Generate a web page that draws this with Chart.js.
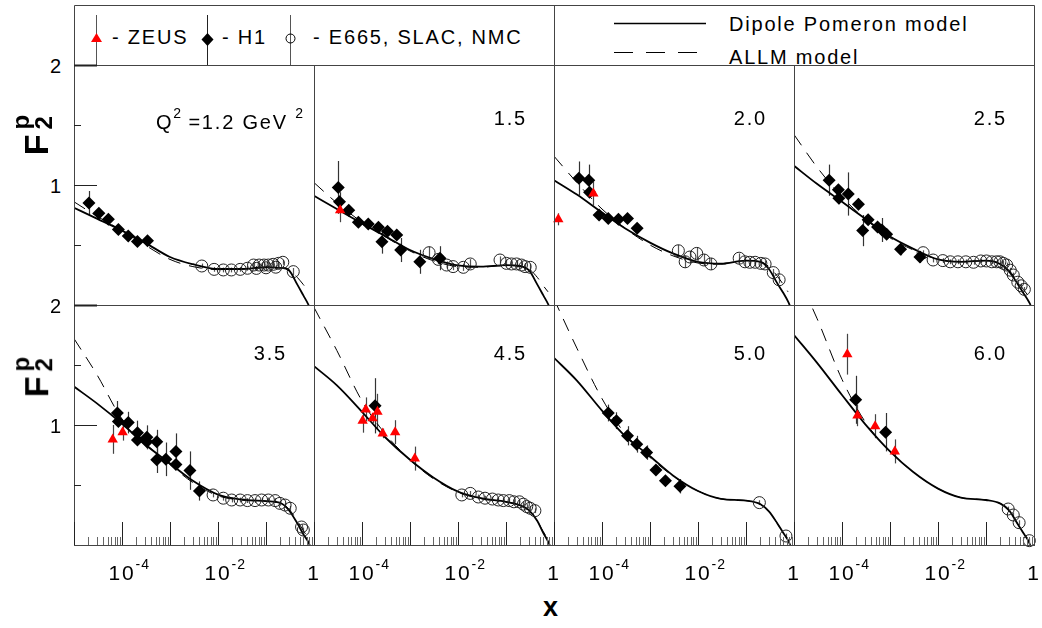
<!DOCTYPE html>
<html>
<head>
<meta charset="utf-8">
<script src="https://cdn.jsdelivr.net/npm/chart.js@4.4.1/dist/chart.umd.min.js"></script>
<style>
  body { margin: 0; background: #fff; }
  #fig { position: relative; width: 1042px; height: 628px; overflow: hidden;
         font-family: "Liberation Sans", Arial, sans-serif; color: #000; }
  #fig canvas { position: absolute; }
  .t { position: absolute; white-space: nowrap; font-size: 20px; line-height: 1; letter-spacing: 1.8px; }
  .sup { position: absolute; left: 100%; top: -5px; font-size: 14px; letter-spacing: 1px; }
  .isup { font-size: 14px; vertical-align: 11px; letter-spacing: 0; }
</style>
</head>
<body>
<div id="fig">
  <svg width="1042" height="70" style="position:absolute;left:0;top:0">
    <path d="M74.5 66 V5.5 H1034.5 V66 M554.5 5.5 V66" stroke="#444" stroke-width="1" fill="none"/>
    <line x1="96.5" y1="15" x2="96.5" y2="65" stroke="#555"/>
    <polygon points="96.5,33 102,42 91,42" fill="#ff0000"/>
    <line x1="207.5" y1="15" x2="207.5" y2="65" stroke="#222"/>
    <polygon points="207.5,33 213.5,39.5 207.5,46 201.5,39.5" fill="#000"/>
    <line x1="290.5" y1="15" x2="290.5" y2="65" stroke="#555"/>
    <circle cx="290.5" cy="38.5" r="4.5" fill="none" stroke="#000"/>
    <line x1="614" y1="23.5" x2="706" y2="23.5" stroke="#000" stroke-width="1.6"/>
    <line x1="614" y1="52.5" x2="698" y2="52.5" stroke="#000" stroke-width="1" stroke-dasharray="19 13"/>
  </svg>
  <div class="t" style="left:112px;top:27px">- ZEUS</div>
  <div class="t" style="left:222px;top:27px">- H1</div>
  <div class="t" style="left:313px;top:27px">- E665, SLAC, NMC</div>
  <div class="t" style="left:729px;top:14px">Dipole Pomeron model</div>
  <div class="t" style="left:729px;top:47px">ALLM model</div>
  <div class="t" style="left:543px;top:594px;font-size:27px;font-weight:bold;letter-spacing:0">x</div>
</div>
<script>
const CURVE_X = [1e-5, 3e-5, 1e-4, 3e-4, 1e-3, 3e-3, 1e-2, 3e-2, 0.1, 0.2, 0.3, 0.45, 0.6, 0.75, 0.85];
const Q2_LABELS = ['1.2', '1.5', '2.0', '2.5', '3.5', '4.5', '5.0', '6.0'];
const X_TICK_LABELS = [[1e-4, '10', '-4'], [1e-2, '10', '-2'], [1, '1', '']];
const Y_TICK_LABELS = [[1, '1'], [2, '2']];

// points: [x, F2, error]
const zeus_12 = [];
const h1_12 = [[2.05e-5, 0.85, 0.1], [3.3e-5, 0.765, 0.03], [5.2e-5, 0.715, 0.03], [8.4e-5, 0.63, 0.03],
  [1.35e-4, 0.575, 0.03], [2.1e-4, 0.53, 0.03], [3.4e-4, 0.535, 0.03]];
const fixed_12 = [[4.6e-3, 0.325, 0.02], [8.3e-3, 0.297, 0.02], [1.29e-2, 0.292, 0.02], [1.9e-2, 0.292, 0.02],
  [2.9e-2, 0.297, 0.02], [4.1e-2, 0.306, 0.02], [5.5e-2, 0.333, 0.02], [6.3e-2, 0.305, 0.02], [7.2e-2, 0.333, 0.02],
  [9.1e-2, 0.333, 0.02], [0.1, 0.31, 0.02], [0.112, 0.333, 0.02], [0.141, 0.339, 0.02], [0.16, 0.315, 0.02],
  [0.182, 0.347, 0.02], [0.224, 0.356, 0.02], [0.37, 0.278, 0.03]];
const dip_12 = [0.81, 0.72, 0.62, 0.52, 0.40, 0.34, 0.30, 0.30, 0.315, 0.31, 0.29, 0.17, 0.08, 0.01, -0.04];
const allm_12 = [0.86, 0.74, 0.62, 0.50, 0.38, 0.32, 0.295, 0.30, 0.31, 0.31, 0.30, 0.23, 0.17, 0.12];

const zeus_15 = [[3.5e-5, 0.79, 0.1]];
const h1_15 = [[3.2e-5, 0.98, 0.22], [3.4e-5, 0.86, 0.08], [5.3e-5, 0.79, 0.03], [8.4e-5, 0.69, 0.03],
  [1.35e-4, 0.675, 0.03], [2.2e-4, 0.647, 0.03], [3.4e-4, 0.614, 0.03], [5.3e-4, 0.583, 0.03],
  [2.6e-4, 0.528, 0.1], [6.4e-4, 0.458, 0.1], [1.6e-3, 0.36, 0.1], [4.2e-3, 0.39, 0.1]];
const fixed_15 = [[2.5e-3, 0.436, 0.05], [3.9e-3, 0.38, 0.04], [5.8e-3, 0.333, 0.03], [7.9e-3, 0.32, 0.03],
  [1.29e-2, 0.314, 0.03], [1.8e-2, 0.342, 0.04], [7.5e-2, 0.375, 0.03], [0.102, 0.347, 0.03], [0.13, 0.342, 0.03],
  [0.166, 0.342, 0.03], [0.21, 0.333, 0.03], [0.25, 0.32, 0.03], [0.32, 0.314, 0.03]];
const dip_15 = [0.91, 0.80, 0.68, 0.575, 0.458, 0.385, 0.33, 0.32, 0.333, 0.325, 0.29, 0.17, 0.08, 0.01, -0.04];
const allm_15 = [1.02, 0.85, 0.69, 0.57, 0.45, 0.37, 0.32, 0.315, 0.33, 0.32, 0.30, 0.23, 0.16, 0.11];

const zeus_20 = [[1.23e-5, 0.714, 0.05], [6.6e-5, 0.93, 0.1]];
const h1_20 = [[3.3e-5, 1.056, 0.14], [5.3e-5, 1.04, 0.13], [5.5e-5, 0.94, 0.03], [8.7e-5, 0.75, 0.03],
  [1.35e-4, 0.72, 0.04], [2.2e-4, 0.714, 0.03], [3.4e-4, 0.72, 0.03], [5.4e-4, 0.64, 0.04]];
const fixed_20 = [[3.9e-3, 0.452, 0.05], [5.4e-3, 0.36, 0.05], [6.8e-3, 0.40, 0.05], [9.4e-3, 0.43, 0.05],
  [1.33e-2, 0.375, 0.05], [1.86e-2, 0.342, 0.05], [7.2e-2, 0.39, 0.04], [9.5e-2, 0.36, 0.04], [0.12, 0.356, 0.03],
  [0.155, 0.356, 0.03], [0.204, 0.347, 0.03], [0.25, 0.342, 0.03], [0.37, 0.27, 0.03], [0.49, 0.21, 0.03]];
const dip_20 = [1.04, 0.92, 0.77, 0.64, 0.52, 0.43, 0.36, 0.345, 0.37, 0.36, 0.30, 0.18, 0.10, 0.03, -0.02];
const allm_20 = [1.24, 1.02, 0.80, 0.64, 0.50, 0.41, 0.35, 0.34, 0.37, 0.36, 0.32, 0.24, 0.17, 0.11];

const zeus_25 = [];
const h1_25 = [[5.4e-5, 1.04, 0.13], [8.4e-5, 0.96, 0.04], [8.6e-5, 0.89, 0.05], [1.35e-4, 0.925, 0.18],
  [2.2e-4, 0.84, 0.05], [2.7e-4, 0.62, 0.13], [3.5e-4, 0.71, 0.04], [5.5e-4, 0.65, 0.04], [6.8e-4, 0.625, 0.1],
  [8.5e-4, 0.59, 0.03], [1.66e-3, 0.464, 0.05], [4.2e-3, 0.40, 0.05]];
const fixed_25 = [[4.9e-3, 0.436, 0.02], [7.9e-3, 0.375, 0.02], [1.26e-2, 0.37, 0.02], [1.8e-2, 0.36, 0.02],
  [2.6e-2, 0.36, 0.02], [3.8e-2, 0.36, 0.02], [5.5e-2, 0.356, 0.02], [7.8e-2, 0.367, 0.02], [0.102, 0.367, 0.02],
  [0.132, 0.36, 0.02], [0.166, 0.36, 0.02], [0.195, 0.36, 0.02], [0.23, 0.347, 0.02], [0.27, 0.333, 0.02],
  [0.32, 0.29, 0.02], [0.37, 0.25, 0.02], [0.46, 0.19, 0.02], [0.54, 0.16, 0.02], [0.63, 0.13, 0.02]];
const dip_25 = [1.16, 1.01, 0.86, 0.72, 0.57, 0.47, 0.38, 0.36, 0.37, 0.34, 0.28, 0.18, 0.10, 0.04, 0.0];
const allm_25 = [1.42, 1.15, 0.90, 0.72, 0.56, 0.46, 0.38, 0.36, 0.37, 0.345, 0.29, 0.20, 0.13, 0.08];

const zeus_35 = [[6.4e-5, 0.88, 0.12], [1.03e-4, 0.94, 0.07]];
const h1_35 = [[8e-5, 1.10, 0.1], [8.4e-5, 1.03, 0.04], [1.35e-4, 1.02, 0.09], [2.1e-4, 0.936, 0.1],
  [2.1e-4, 0.875, 0.04], [3.3e-4, 0.897, 0.1], [3.3e-4, 0.86, 0.04], [5.3e-4, 0.86, 0.1], [5.3e-4, 0.71, 0.11],
  [8.2e-4, 0.714, 0.14], [1.33e-3, 0.78, 0.15], [1.33e-3, 0.67, 0.04], [2.6e-3, 0.62, 0.16], [4.1e-3, 0.45, 0.08]];
const fixed_35 = [[7.9e-3, 0.417, 0.02], [1.29e-2, 0.39, 0.02], [1.93e-2, 0.375, 0.02], [2.9e-2, 0.375, 0.02],
  [4.1e-2, 0.37, 0.02], [5.9e-2, 0.37, 0.02], [8.1e-2, 0.375, 0.02], [0.112, 0.375, 0.02], [0.155, 0.37, 0.02],
  [0.195, 0.347, 0.02], [0.25, 0.333, 0.02], [0.32, 0.306, 0.02], [0.55, 0.15, 0.02], [0.6, 0.125, 0.02]];
const dip_35 = [1.32, 1.18, 1.01, 0.84, 0.68, 0.535, 0.42, 0.38, 0.365, 0.35, 0.29, 0.18, 0.09, 0.03, -0.02];
const allm_35 = [1.72, 1.42, 1.05, 0.85, 0.67, 0.52, 0.41, 0.375, 0.365, 0.35, 0.30, 0.20, 0.12, 0.06];

const zeus_45 = [[1.03e-4, 1.036, 0.1], [1.2e-4, 1.13, 0.1], [1.66e-4, 1.056, 0.04], [2.1e-4, 1.11, 0.15],
  [2.7e-4, 0.93, 0.04], [4.9e-4, 0.94, 0.1], [1.26e-3, 0.72, 0.1]];
const h1_45 = [[1.87e-4, 1.16, 0.23]];
const fixed_45 = [[0.012, 0.417, 0.02], [0.018, 0.43, 0.02], [0.0265, 0.40, 0.02], [0.0366, 0.39, 0.02],
  [0.052, 0.383, 0.02], [0.069, 0.375, 0.02], [0.088, 0.37, 0.02], [0.117, 0.37, 0.02], [0.146, 0.36, 0.02],
  [0.19, 0.36, 0.02], [0.23, 0.34, 0.02], [0.27, 0.32, 0.02], [0.32, 0.306, 0.02], [0.4, 0.286, 0.02]];
const dip_45 = [1.49, 1.33, 1.11, 0.90, 0.71, 0.565, 0.445, 0.39, 0.36, 0.33, 0.29, 0.20, 0.10, 0.03, -0.02];
const allm_45 = [1.98, 1.62, 1.20, 0.93, 0.71, 0.555, 0.44, 0.385, 0.36, 0.33, 0.29, 0.20, 0.11, 0.05];

const zeus_50 = [];
const h1_50 = [[1.35e-4, 1.10, 0.07], [2.0e-4, 1.036, 0.07], [3.4e-4, 0.91, 0.08], [5.3e-4, 0.84, 0.07],
  [8.5e-4, 0.77, 0.06], [1.33e-3, 0.625, 0.03], [2.1e-3, 0.536, 0.03], [4.2e-3, 0.49, 0.06]];
const fixed_50 = [[0.19, 0.353, 0.02], [0.68, 0.075, 0.02]];
const dip_50 = [1.56, 1.37, 1.12, 0.91, 0.74, 0.58, 0.45, 0.385, 0.37, 0.34, 0.28, 0.18, 0.10, 0.04, -0.01];
const allm_50 = [2.05, 1.64, 1.22, 0.93, 0.73, 0.575, 0.45, 0.385, 0.37, 0.34, 0.28, 0.18, 0.10, 0.04];

const zeus_60 = [[1.29e-4, 1.59, 0.17], [2.1e-4, 1.08, 0.09], [4.9e-4, 0.99, 0.1], [1.26e-3, 0.78, 0.1]];
const h1_60 = [[1.93e-4, 1.21, 0.2], [8.1e-4, 0.94, 0.16]];
const fixed_60 = [[0.29, 0.30, 0.02], [0.37, 0.25, 0.02], [0.49, 0.186, 0.02], [0.8, 0.036, 0.02]];
const dip_60 = [1.75, 1.52, 1.25, 1.01, 0.78, 0.61, 0.47, 0.395, 0.375, 0.345, 0.29, 0.18, 0.10, 0.04, -0.01];
const allm_60 = [2.3, 1.89, 1.38, 1.03, 0.78, 0.61, 0.47, 0.395, 0.375, 0.345, 0.29, 0.18, 0.10, 0.04];

const panels = [
  { zeus: zeus_12, h1: h1_12, fixed: fixed_12, dip: dip_12, allm: allm_12 },
  { zeus: zeus_15, h1: h1_15, fixed: fixed_15, dip: dip_15, allm: allm_15 },
  { zeus: zeus_20, h1: h1_20, fixed: fixed_20, dip: dip_20, allm: allm_20 },
  { zeus: zeus_25, h1: h1_25, fixed: fixed_25, dip: dip_25, allm: allm_25 },
  { zeus: zeus_35, h1: h1_35, fixed: fixed_35, dip: dip_35, allm: allm_35 },
  { zeus: zeus_45, h1: h1_45, fixed: fixed_45, dip: dip_45, allm: allm_45 },
  { zeus: zeus_50, h1: h1_50, fixed: fixed_50, dip: dip_50, allm: allm_50 },
  { zeus: zeus_60, h1: h1_60, fixed: fixed_60, dip: dip_60, allm: allm_60 }
];

const LEFT = 74, TOP = 65, SIZE = 240, PAD = 10;
const fig = document.getElementById('fig');

// vertical error bars, drawn under the markers
const errorBars = {
  id: 'errorBars',
  beforeDatasetsDraw(chart) {
    const ctx = chart.ctx;
    chart.data.datasets.forEach((ds, i) => {
      if (!ds.errors) return;
      const meta = chart.getDatasetMeta(i);
      const xs = chart.scales[meta.xAxisID], ys = chart.scales[meta.yAxisID];
      ctx.save();
      ctx.strokeStyle = ds.errColor;
      ctx.lineWidth = 1.2;
      ds.data.forEach((p, j) => {
        const e = ds.errors[j];
        if (!e) return;
        const px = Math.round(xs.getPixelForValue(p.x)) + 0.5;
        ctx.beginPath();
        ctx.moveTo(px, ys.getPixelForValue(p.y + e));
        ctx.lineTo(px, ys.getPixelForValue(p.y - e));
        ctx.stroke();
      });
      ctx.restore();
    });
  }
};

// panel frame and inward ticks
const frame = {
  id: 'frame',
  afterDraw(chart, args, opts) {
    const { ctx, chartArea: a, scales: { x, y } } = chart;
    ctx.save();
    ctx.strokeStyle = '#444';
    ctx.lineWidth = 1;
    ctx.strokeRect(a.left + 0.5, a.top + 0.5, a.right - a.left, a.bottom - a.top);
    const seg = (x1, y1, x2, y2, col) => {
      ctx.strokeStyle = col;
      ctx.beginPath(); ctx.moveTo(x1, y1); ctx.lineTo(x2, y2); ctx.stroke();
    };
    if (opts.xTicks) {
      for (let e = -5; e < 0; e++) {
        for (let m = 1; m <= 9; m++) {
          const v = m * Math.pow(10, e);
          const px = Math.round(x.getPixelForValue(v)) + 0.5;
          if (m === 1) seg(px, a.bottom, px, a.bottom - 23, '#222');
          else seg(px, a.bottom, px, a.bottom - 8, '#666');
        }
      }
    }
    if (opts.yTicks) {
      [0.5, 1, 1.5, 2].forEach(v => {
        const py = Math.round(y.getPixelForValue(v)) + 0.5;
        const major = v % 1 === 0;
        ctx.lineWidth = major && v === 2 ? 2 : 1;
        seg(a.left, py, a.left + (major ? 23 : 7), py, '#222');
      });
    }
    ctx.restore();
  }
};

const pts = arr => arr.map(p => ({ x: p[0], y: p[1] }));
const errs = arr => arr.map(p => p[2]);
const curve = ys => ys.map((v, i) => ({ x: CURVE_X[i], y: v }));

function addText(html, left, top, style) {
  const d = document.createElement('div');
  d.className = 't';
  d.innerHTML = html;
  d.style.left = left + 'px';
  d.style.top = top + 'px';
  if (style) Object.assign(d.style, style);
  fig.appendChild(d);
  return d;
}

panels.forEach((p, k) => {
  const row = Math.floor(k / 4), col = k % 4;
  const cx = LEFT + col * SIZE - PAD, cy = TOP + row * SIZE - PAD;
  const cv = document.createElement('canvas');
  cv.width = SIZE + 2 * PAD; cv.height = SIZE + 2 * PAD;
  cv.style.left = cx + 'px'; cv.style.top = cy + 'px';
  fig.appendChild(cv);

  const chart = new Chart(cv, {
    type: 'scatter',
    data: {
      datasets: [
        { label: 'ZEUS', data: pts(p.zeus), errors: errs(p.zeus), errColor: '#444',
          pointStyle: 'triangle', pointRadius: 6, backgroundColor: '#ff0000', borderColor: '#ff0000',
          borderWidth: 0, clip: PAD },
        { label: 'H1', data: pts(p.h1), errors: errs(p.h1), errColor: '#333',
          pointStyle: 'rectRot', pointRadius: 6.5, backgroundColor: '#000', borderColor: '#000',
          borderWidth: 0, clip: PAD },
        { label: 'E665, SLAC, NMC', data: pts(p.fixed), errors: errs(p.fixed), errColor: '#555',
          pointStyle: 'circle', pointRadius: 6, backgroundColor: 'rgba(0,0,0,0)', borderColor: '#222',
          borderWidth: 1, clip: PAD },
        { label: 'Dipole Pomeron model', data: curve(p.dip), showLine: true, pointRadius: 0,
          borderColor: '#000', borderWidth: 1.8, cubicInterpolationMode: 'monotone', clip: 0 },
        { label: 'ALLM model', data: curve(p.allm), showLine: true, pointRadius: 0,
          borderColor: '#000', borderWidth: 1, borderDash: [13, 9], cubicInterpolationMode: 'monotone', clip: 0 }
      ]
    },
    options: {
      responsive: false,
      animation: false,
      events: [],
      layout: { padding: PAD },
      scales: {
        x: { type: 'logarithmic', min: 1e-5, max: 1, display: false },
        y: { type: 'linear', min: 0, max: 2, display: false }
      },
      plugins: {
        legend: { display: false },
        tooltip: { enabled: false },
        frame: { xTicks: row === 1, yTicks: col === 0 }
      }
    },
    plugins: [errorBars, frame]
  });

  const right = LEFT + (col + 1) * SIZE;
  // Q^2 label
  if (k === 0) {
    addText('Q<span class="isup">2</span> =1.2 GeV <span class="isup">2</span>', 0, TOP + 41,
      { left: 'auto', right: (1042 - right + 11) + 'px' });
  } else {
    addText(Q2_LABELS[k], 0, TOP + row * SIZE + (row ? 38 : 43),
      { left: 'auto', right: (1042 - right + 27) + 'px' });
  }

  // tick labels from the chart's own scales
  if (row === 1) {
    X_TICK_LABELS.forEach(([v, base, exp]) => {
      const px = cx + chart.scales.x.getPixelForValue(v);
      addText(base + (exp ? '<span class="sup">' + exp + '</span>' : ''), px, 562,
        { transform: 'translateX(-50%)', fontSize: '21px' });
    });
  }
  if (col === 0) {
    Y_TICK_LABELS.forEach(([v, s]) => {
      const py = cy + chart.scales.y.getPixelForValue(v);
      addText(s, 0, Math.round(py - 9), { left: 'auto', right: (1042 - 61) + 'px', letterSpacing: '0' });
    });
    // F2p axis title, rotated about its centre
    addText('<b style="font-size:34px">F</b><span style="display:inline-block;vertical-align:-4px;margin-left:5px;line-height:0.95;font-weight:bold;font-size:24px;text-align:left">p<br>2</span>',
      33, TOP + row * SIZE + (row ? 72 : 70),
      { transform: 'translate(-50%,-50%) rotate(-90deg)', letterSpacing: '0' });
  }
});
</script>
</body>
</html>
